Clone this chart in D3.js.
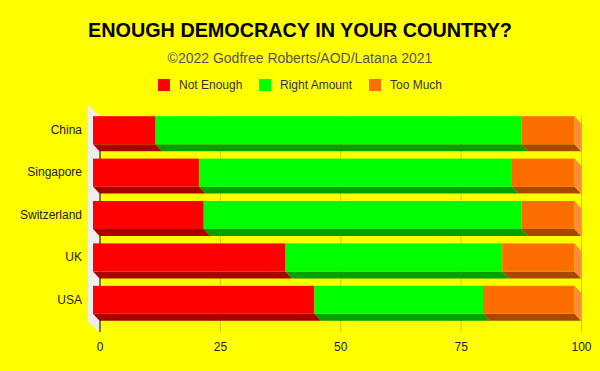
<!DOCTYPE html>
<html>
<head>
<meta charset="utf-8">
<script src="https://cdn.jsdelivr.net/npm/d3@7"></script>
<style>
  body { margin: 0; background: #ffff00; }
  text { font-family: "Liberation Sans", Arial, sans-serif; }
</style>
</head>
<body>
<div class="chart"></div>
<script>
// data
const countries = ["China", "Singapore", "Switzerland", "UK", "USA"];
const notEnough = [13, 22, 23, 40, 46];
const rightAmount = [76, 65, 66, 45, 35];
const tooMuch = [11, 13, 11, 15, 19];
const seriesNames = ["Not Enough", "Right Amount", "Too Much"];
const xTicks = [0, 25, 50, 75, 100];

// colours: front, bottom, side
const colors = [
    ["#ff0000", "#a80000", "#ff4040"],
    ["#00ff00", "#00a000", "#40ff40"],
    ["#ff6e00", "#a84800", "#ff8c3c"]
];

const width = 600, height = 371;
const dx = 6.5, dy = 7;   // 3d depth offset

const svg = d3.select(".chart")
    .append("svg")
    .attr("width", width)
    .attr("height", height);

svg.append("rect").attr("width", width).attr("height", height).attr("fill", "#ffff00");

// titles
svg.append("text")
    .attr("x", 300).attr("y", 37)
    .attr("text-anchor", "middle")
    .attr("font-size", 19.8).attr("font-weight", "bold")
    .attr("fill", "#000")
    .text("ENOUGH DEMOCRACY IN YOUR COUNTRY?");

svg.append("text")
    .attr("x", 300).attr("y", 63)
    .attr("text-anchor", "middle")
    .attr("font-size", 14)
    .attr("fill", "#555")
    .text("\u00a92022 Godfree Roberts/AOD/Latana 2021");

// legend
const legendX = [158, 259, 369];
const legend = svg.append("g");
seriesNames.forEach(function(name, i) {
    legend.append("rect")
        .attr("x", legendX[i]).attr("y", 79)
        .attr("width", 12).attr("height", 12)
        .attr("fill", colors[i][0]);
    legend.append("text")
        .attr("x", legendX[i] + 21).attr("y", 89)
        .attr("font-size", 12).attr("fill", "#333")
        .text(name);
});

// scales (back plane)
const x = d3.scaleLinear().domain([0, 100]).range([99.5, 581]);
const y = d3.scaleBand().domain(countries).range([116, 328]).paddingInner(0.34).paddingOuter(0.17);

// left wall
svg.append("path")
    .attr("d", "M88,105 L" + x(0) + ",116 L" + x(0) + ",332 L88,322 Z")
    .attr("fill", "#eeeeee");

// gridlines
svg.append("g")
    .selectAll("line")
    .data(xTicks)
    .join("line")
    .attr("x1", d => x(d) + 0.5).attr("x2", d => x(d) + 0.5)
    .attr("y1", 116).attr("y2", 332)
    .attr("stroke", d => d === 0 ? "#000" : "#c8c800")
    .attr("stroke-width", 1);

// x axis labels
const xAxis = svg.append("g")
    .attr("transform", "translate(0,334)")
    .call(d3.axisBottom(x).tickValues(xTicks).tickSize(0).tickPadding(8));
xAxis.select(".domain").remove();
xAxis.selectAll("text").attr("font-size", 12).attr("fill", "#222")
    .attr("font-family", "'Liberation Sans', Arial, sans-serif");

// y axis labels
const yAxis = svg.append("g")
    .attr("transform", "translate(" + (x(0) - dx) + "," + (-dy) + ")")
    .call(d3.axisLeft(y).tickSize(0).tickPadding(11));
yAxis.select(".domain").remove();
yAxis.selectAll("text").attr("font-size", 12).attr("fill", "#222")
    .attr("font-family", "'Liberation Sans', Arial, sans-serif");

// stacked data
const rows = countries.map(function(c, i) {
    return { country: c, values: [notEnough[i], rightAmount[i], tooMuch[i]] };
});

const bars = svg.append("g");
rows.forEach(function(r) {
    let acc = 0;
    const segs = r.values.map(function(v, k) {
        const s = { k: k, x0: x(acc) - dx, x1: x(acc + v) - dx };
        acc += v;
        return s;
    });
    const yt = y(r.country) - dy;
    const yb = yt + y.bandwidth();
    // bottom faces
    segs.forEach(function(s) {
        bars.append("path")
            .attr("d", "M" + s.x0 + "," + yb + " L" + s.x1 + "," + yb + " L" + (s.x1 + dx) + "," + (yb + dy) +
                " L" + (s.x0 + dx) + "," + (yb + dy) + " Z")
            .attr("fill", colors[s.k][1]);
    });
    // side face of last segment
    const last = segs[segs.length - 1];
    bars.append("path")
        .attr("d", "M" + last.x1 + "," + yt + " L" + (last.x1 + dx) + "," + (yt + dy) + " L" + (last.x1 + dx) + "," + (yb + dy) +
            " L" + last.x1 + "," + yb + " Z")
        .attr("fill", colors[last.k][2]);
    // front faces
    segs.forEach(function(s) {
        bars.append("rect")
            .attr("x", s.x0).attr("y", yt)
            .attr("width", s.x1 - s.x0).attr("height", y.bandwidth())
            .attr("fill", colors[s.k][0]);
    });
});
</script>
</body>
</html>
